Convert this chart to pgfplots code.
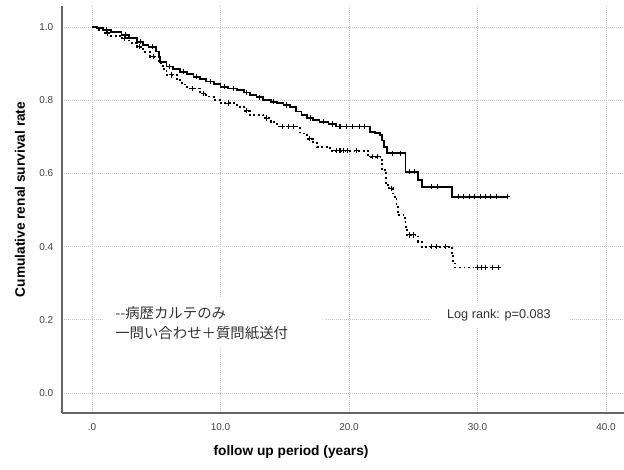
\documentclass[border=0pt]{standalone}
\usepackage{fontspec}
\setmainfont{Liberation Sans}
\newfontfamily\jp{Noto Sans CJK JP}
\usepackage{pgfplots}
\pgfplotsset{compat=1.18}

% solid: inquiry + questionnaire
\pgfplotstableread{
x y
0 1.000
0.4 0.997
0.88 0.992
1.5 0.986
2.3 0.978
2.9 0.969
3.5 0.960
4.0 0.952
4.4 0.946
5.0 0.933
5.2 0.918
5.3 0.905
5.8 0.892
6.3 0.885
6.85 0.878
7.4 0.871
7.9 0.864
8.4 0.857
8.9 0.851
9.5 0.844
10.0 0.837
10.6 0.832
11.3 0.828
11.8 0.821
12.3 0.814
12.8 0.808
13.3 0.801
13.9 0.796
14.4 0.792
14.9 0.787
15.4 0.782
15.9 0.769
16.3 0.760
16.7 0.751
17.2 0.746
17.7 0.741
18.4 0.735
19.0 0.728
21.6 0.714
22.0 0.710
22.4 0.705
22.6 0.690
22.7 0.673
22.98 0.655
24.4 0.605
25.4 0.582
25.65 0.564
28.0 0.536
32.3 0.536
}\solid

% dotted: medical records only
\pgfplotstableread{
x y
0 1.000
0.4 0.992
0.88 0.983
1.5 0.976
2.2 0.969
2.9 0.957
3.5 0.946
4.0 0.932
4.5 0.919
5.2 0.901
5.5 0.885
5.8 0.869
6.6 0.855
7.0 0.843
7.4 0.832
8.4 0.819
8.9 0.810
9.5 0.801
10.0 0.792
11.3 0.782
11.8 0.771
12.3 0.760
13.3 0.751
13.9 0.740
14.4 0.728
16.2 0.709
16.7 0.695
17.2 0.682
17.5 0.673
18.5 0.662
21.5 0.646
22.55 0.609
22.9 0.573
23.06 0.559
23.45 0.536
23.7 0.509
23.8 0.486
24.36 0.477
24.4 0.454
24.5 0.432
25.4 0.413
25.65 0.400
28.0 0.382
28.1 0.354
28.25 0.343
31.6 0.343
}\dotted

\begin{document}
\begin{tikzpicture}
\path[use as bounding box] (-46.5pt,-42.75pt) rectangle (421.5pt,309.75pt);
\begin{axis}[
  at={(0,0)}, anchor=south west,
  scale only axis,
  width=421.5pt, height=305.25pt,
  xmin=-2.335, xmax=41.4,
  ymin=-0.0546, ymax=1.0574,
  axis x line=bottom, axis y line=left,
  axis line style={-, draw=black!60, line width=0.8pt},
  major tick length=0pt,
  xtick={0,10,20,30,40},
  xticklabels={.0,10.0,20.0,30.0,40.0},
  ytick={0,0.2,0.4,0.6,0.8,1.0},
  yticklabels={0.0,0.2,0.4,0.6,0.8,1.0},
  tick label style={font=\fontsize{7.5}{9}\selectfont, text=black!75},
  xticklabel style={yshift=-4pt},
  yticklabel style={xshift=-3pt},
  grid=major,
  grid style={draw=black!22, line width=0.7pt, dash pattern=on 1pt off 0.5pt},
  xlabel={follow up period (years)},
  ylabel={Cumulative renal survival rate},
  every axis x label/.style={at={(axis description cs:0.4075,0)}, anchor=center, yshift=-29.25pt, font=\bfseries\fontsize{10.3}{12}\selectfont},
  every axis y label/.style={at={(axis description cs:-0.0747,0.5246)}, anchor=center, rotate=90, font=\bfseries\fontsize{10.3}{12}\selectfont},
  clip=false,
]
\addplot[const plot mark left, black, line width=1.4pt] table[x=x,y=y] {\solid};
\addplot[const plot mark left, black, line width=1.4pt, dash pattern=on 1.4pt off 2pt] table[x=x,y=y] {\dotted};
% censor marks
\addplot[only marks, mark=+, mark size=2pt, black, line width=0.8pt] coordinates {
 (1.1,0.992) (2.6,0.978) (3.8,0.960) (4.7,0.946) (6.0,0.892) (7.1,0.878) (8.1,0.864)
 (9.2,0.851) (10.3,0.837) (11.0,0.832) (12.0,0.821) (13.0,0.808) (14.1,0.796)
 (15.1,0.787) (17.0,0.751) (18.0,0.741) (18.7,0.735)
 (19.3,0.728) (19.8,0.728) (20.3,0.728) (20.8,0.728) (21.2,0.728)
 (23.4,0.655) (24.0,0.655) (24.7,0.605) (25.1,0.605) (26.4,0.564) (26.9,0.564)
 (28.5,0.536) (28.9,0.536) (29.4,0.536) (29.8,0.536) (30.2,0.536) (30.6,0.536)
 (31.0,0.536) (31.5,0.536) (32.3,0.536)
};
\addplot[only marks, mark=+, mark size=2pt, black, line width=0.8pt] coordinates {
 (1.2,0.983) (2.5,0.969) (3.7,0.946) (4.8,0.919) (6.2,0.869) (7.8,0.832) (8.7,0.819)
 (10.6,0.792) (12.0,0.771) (13.6,0.751) (14.8,0.728) (15.3,0.728) (15.7,0.728)
 (16.9,0.695) (19.0,0.662) (19.3,0.662) (19.6,0.662) (19.9,0.662) (20.6,0.662)
 (21.8,0.646) (22.2,0.646) (23.3,0.559) (24.7,0.432) (25.0,0.432)
 (26.4,0.400) (26.8,0.400) (27.5,0.400)
 (30.0,0.343) (30.3,0.343) (30.6,0.343) (31.2,0.343) (31.6,0.343)
};
% legend box and text
\fill[white] (axis cs:0.856,0.1257) rectangle (axis cs:18.13,0.2596);
\node[anchor=west, inner sep=0pt, font=\jp\fontsize{10.8}{12}\selectfont, text=black!80] at (axis cs:1.79,0.2186) {--病歴カルテのみ};
\node[anchor=west, inner sep=0pt, font=\jp\fontsize{10.8}{12}\selectfont, text=black!80] at (axis cs:1.79,0.164) {一問い合わせ＋質問紙送付};
\fill[white] (axis cs:26.46,0.1803) rectangle (axis cs:37.2,0.2486);
\node[anchor=center, inner sep=0pt, font=\fontsize{9.5}{11}\selectfont, text=black!80] at (axis cs:31.67,0.213) {Log rank: p=0.083};
\end{axis}
\end{tikzpicture}
\end{document}
